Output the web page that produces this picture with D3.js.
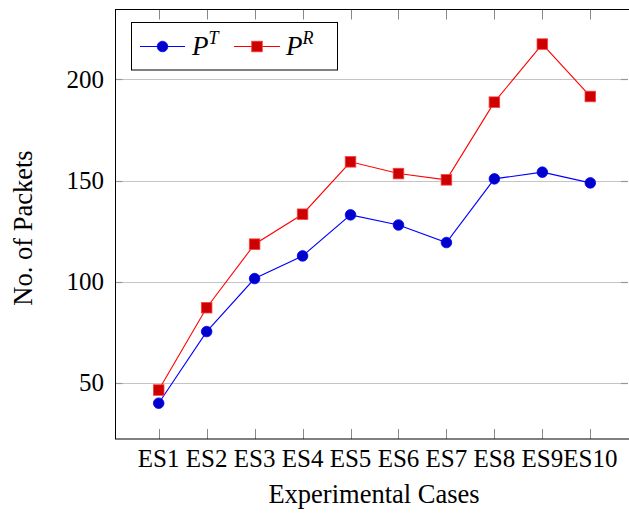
<!DOCTYPE html>
<html lang="en">
<head>
  <meta charset="UTF-8">
  <title>Packets per Experimental Case</title>
  <script src="https://d3js.org/d3.v7.min.js"></script>
  <style>
    body { margin: 0; background: #fff; }
    svg text { font-family: "Times New Roman", "Liberation Serif", Times, "DejaVu Serif", serif; fill: #000; }
  </style>
</head>
<body>
  <svg width="629" height="515"></svg>
  <script>
    // Data
    const cases = ["ES1", "ES2", "ES3", "ES4", "ES5", "ES6", "ES7", "ES8", "ES9", "ES10"];
    const pT = [40, 75.4, 101.6, 112.8, 133.1, 128.1, 119.4, 150.9, 154.2, 148.9];
    const pR = [46.5, 87.2, 118.6, 133.4, 159.3, 153.5, 150.4, 188.8, 217.5, 191.6];
    const yTicks = [50, 100, 150, 200];

    const svg = d3.select("svg");

    // plot frame
    const plotLeft = 115.5, plotRight = 628, plotTop = 9.5, plotBottom = 439;

    const x = d3.scalePoint()
                .domain(cases)
                .range([158.7, 590.3]);
    const y = d3.scaleLinear()
                .domain([22.3, 234.6])
                .range([plotBottom, plotTop]);

    // horizontal grid
    svg.append("g")
       .selectAll("line")
       .data(yTicks)
       .enter()
       .append("line")
       .attr("x1", plotLeft).attr("x2", plotRight)
       .attr("y1", d => Math.round(y(d)) + 0.5)
       .attr("y2", d => Math.round(y(d)) + 0.5)
       .attr("stroke", "#c4c4c4")
       .attr("stroke-width", 1.2);

    // y tick stubs on both sides
    yTicks.forEach(d => {
      const yy = Math.round(y(d)) + 0.5;
      svg.append("line").attr("x1", plotLeft).attr("x2", plotLeft + 7).attr("y1", yy).attr("y2", yy)
         .attr("stroke", "#999").attr("stroke-width", 1.2);
      svg.append("line").attr("x1", plotRight - 7).attr("x2", plotRight).attr("y1", yy).attr("y2", yy)
         .attr("stroke", "#999").attr("stroke-width", 1.2);
    });

    // x tick marks, bottom and top
    cases.forEach(c => {
      const xx = Math.round(x(c)) + 0.5;
      svg.append("line").attr("x1", xx).attr("x2", xx).attr("y1", plotBottom).attr("y2", plotBottom - 10)
         .attr("stroke", "#888").attr("stroke-width", 1);
      svg.append("line").attr("x1", xx).attr("x2", xx).attr("y1", plotTop).attr("y2", plotTop + 10)
         .attr("stroke", "#888").attr("stroke-width", 1);
    });

    // frame
    svg.append("rect")
       .attr("x", plotLeft).attr("y", plotTop)
       .attr("width", plotRight - plotLeft + 2).attr("height", plotBottom - plotTop)
       .attr("fill", "none")
       .attr("stroke", "#000")
       .attr("stroke-width", 1);

    // tick labels
    svg.append("g")
       .selectAll("text")
       .data(cases)
       .enter()
       .append("text")
       .attr("x", d => x(d))
       .attr("y", 467)
       .attr("text-anchor", "middle")
       .style("font-size", "25px")
       .text(d => d);

    svg.append("g")
       .selectAll("text")
       .data(yTicks)
       .enter()
       .append("text")
       .attr("x", 104)
       .attr("y", d => y(d) + 8.5)
       .attr("text-anchor", "end")
       .style("font-size", "25px")
       .text(d => d);

    // axis titles
    svg.append("text")
       .attr("x", 374)
       .attr("y", 503)
       .attr("text-anchor", "middle")
       .style("font-size", "26.5px")
       .text("Experimental Cases");

    svg.append("text")
       .attr("transform", "translate(32,228) rotate(-90)")
       .attr("text-anchor", "middle")
       .style("font-size", "26.5px")
       .text("No. of Packets");

    // lines and markers
    const line = d3.line()
                   .x((d, i) => x(cases[i]))
                   .y(d => y(d));

    svg.append("path")
       .datum(pT)
       .attr("d", line)
       .attr("fill", "none")
       .attr("stroke", "#0000ff")
       .attr("stroke-width", 1.1);

    svg.append("path")
       .datum(pR)
       .attr("d", line)
       .attr("fill", "none")
       .attr("stroke", "#ff0000")
       .attr("stroke-width", 1.1);

    svg.append("g")
       .selectAll("circle")
       .data(pT)
       .enter()
       .append("circle")
       .attr("cx", (d, i) => x(cases[i]))
       .attr("cy", d => y(d))
       .attr("r", 5.3)
       .attr("fill", "#0000cc")
       .attr("stroke", "#0000ff")
       .attr("stroke-width", 0.8);

    svg.append("g")
       .selectAll("rect")
       .data(pR)
       .enter()
       .append("rect")
       .attr("x", (d, i) => x(cases[i]) - 5.3)
       .attr("y", d => y(d) - 5.3)
       .attr("width", 10.6)
       .attr("height", 10.6)
       .attr("fill", "#cc0000")
       .attr("stroke", "#ff4040")
       .attr("stroke-width", 0.8);

    // legend
    const legend = svg.append("g");
    legend.append("rect")
          .attr("x", 131.5).attr("y", 22.5)
          .attr("width", 206).attr("height", 47.5)
          .attr("fill", "#fff")
          .attr("stroke", "#000")
          .attr("stroke-width", 1);

    legend.append("line").attr("x1", 140).attr("x2", 185).attr("y1", 46.5).attr("y2", 46.5)
          .attr("stroke", "#0000ff").attr("stroke-width", 1.1);
    legend.append("circle").attr("cx", 162.5).attr("cy", 46.5).attr("r", 5.3)
          .attr("fill", "#0000cc").attr("stroke", "#0000ff").attr("stroke-width", 0.8);

    legend.append("line").attr("x1", 234).attr("x2", 280).attr("y1", 46.5).attr("y2", 46.5)
          .attr("stroke", "#ff0000").attr("stroke-width", 1.1);
    legend.append("rect").attr("x", 257 - 5.3).attr("y", 46.5 - 5.3).attr("width", 10.6).attr("height", 10.6)
          .attr("fill", "#cc0000").attr("stroke", "#ff4040").attr("stroke-width", 0.8);

    const labT = legend.append("text").attr("x", 192).attr("y", 55).style("font-size", "27px");
    labT.append("tspan").style("font-style", "italic").text("P");
    labT.append("tspan").attr("dy", -11).style("font-size", "18px").style("font-style", "italic").text("T");

    const labR = legend.append("text").attr("x", 286).attr("y", 55).style("font-size", "27px");
    labR.append("tspan").style("font-style", "italic").text("P");
    labR.append("tspan").attr("dy", -11).style("font-size", "18px").style("font-style", "italic").text("R");
  </script>
</body>
</html>
